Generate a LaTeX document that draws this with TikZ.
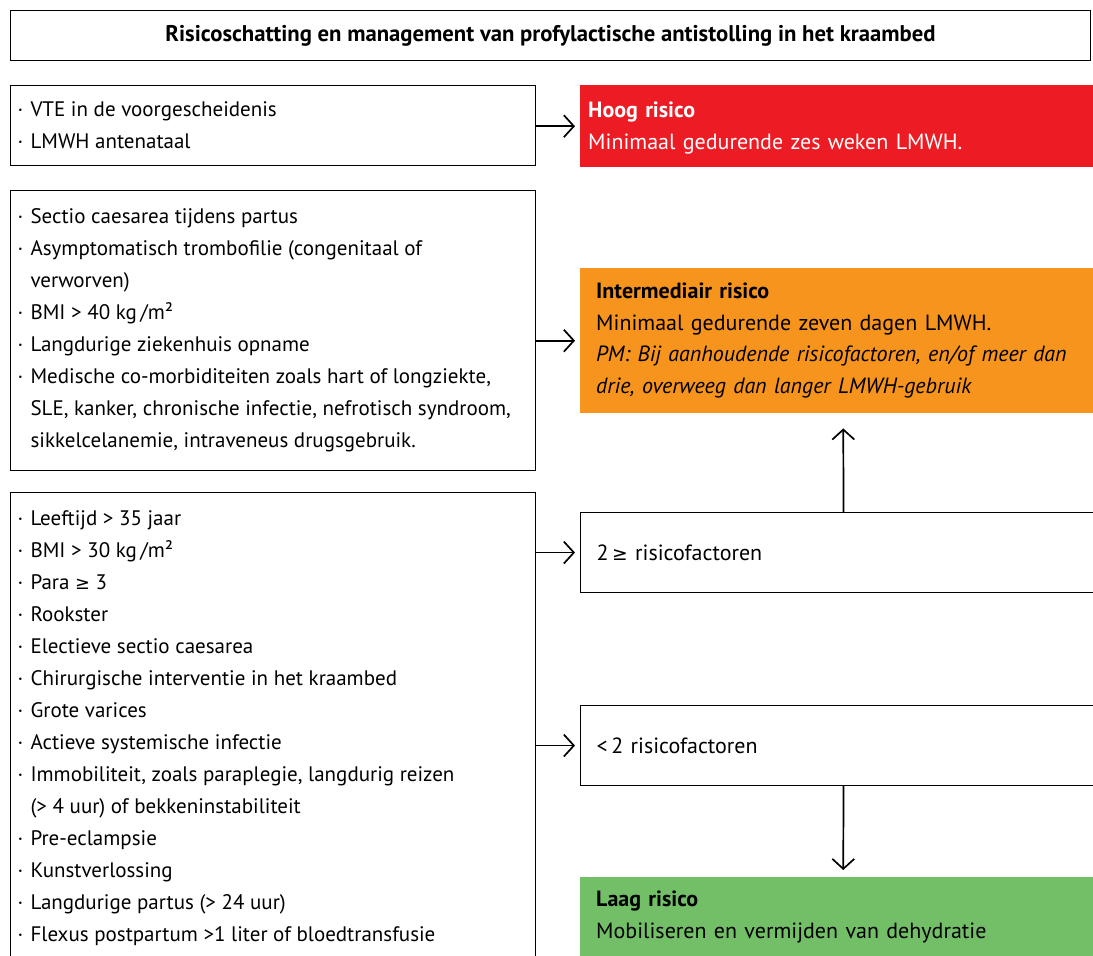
\documentclass[tikz,border=0pt]{standalone}
\usepackage{fontspec}
\setmainfont{PT Sans}
\newfontfamily\symf[Scale=0.85]{DejaVu Sans}
\usetikzlibrary{arrows.meta,positioning}
\definecolor{hoog}{HTML}{ED1C24}
\definecolor{inter}{HTML}{F7941D}
\definecolor{laag}{HTML}{72BF67}
\newcommand{\itm}{\par\noindent\hangindent=13pt\hangafter=1\makebox[13pt][l]{\textperiodcentered}}
\newcommand{\geqs}{{\symf ≥}}
\newenvironment{bullist}{\begin{minipage}{511pt}\raggedright}{\par\end{minipage}}

\begin{document}
\begin{tikzpicture}[x=1pt,y=-1pt]
\tikzstyle{every node}+=[inner sep=0pt]
\tikzstyle{lbox}=[draw=black, line width=1.1pt, anchor=north west, inner xsep=7pt, minimum width=525pt, font=\fontsize{21}{32}\selectfont]
\tikzstyle{rbox}=[anchor=north west, inner xsep=16pt, minimum width=526pt, text width=494pt, align=left, font=\fontsize{22}{31.5}\selectfont]
\tikzstyle{arr}=[black, line width=1.7pt, -{Straight Barb[length=10pt,width=22pt,line width=1.7pt]}]
\useasboundingbox (0,0) rectangle (1093,956);
\node [draw=black, line width=1.1pt, minimum width=1080pt, minimum height=50pt, anchor=north west, font=\fontsize{22.7}{26}\selectfont\bfseries] (title) at (10,10) {Risicoschatting en management van profylactische antistolling in het kraambed};
\node [lbox, minimum height=80pt] (vte) at (10,85) {\begin{bullist}\itm VTE in de voorgescheidenis\itm LMWH antenataal\end{bullist}};
\node [lbox, minimum height=280pt] (mid) at (10,190) {\begin{bullist}\itm Sectio caesarea tijdens partus\itm Asymptomatisch trombofilie (congenitaal of\newline verworven)\itm BMI > 40 kg\,/m²\itm Langdurige ziekenhuis opname\itm Medische co-morbiditeiten zoals hart of longziekte,\newline SLE, kanker, chronische infectie, nefrotisch syndroom,\newline sikkelcelanemie, intraveneus drugsgebruik.\end{bullist}};
\node [lbox, minimum height=472pt] (low) at (10,492) {\begin{bullist}\itm Leeftijd > 35 jaar\itm BMI > 30 kg\,/m²\itm Para \geqs\ 3\itm Rookster\itm Electieve sectio caesarea\itm Chirurgische interventie in het kraambed\itm Grote varices\itm Actieve systemische infectie\itm Immobiliteit, zoals paraplegie, langdurig reizen\newline (> 4 uur) of bekkeninstabiliteit\itm Pre-eclampsie\itm Kunstverlossing\itm Langdurige partus (> 24 uur)\itm Flexus postpartum >1 liter of bloedtransfusie\end{bullist}};
\node [rbox, fill=hoog, text=white, inner xsep=8pt, text width=510pt, minimum height=82pt] (hoogr) at (580,85) {\textbf{Hoog risico}\newline Minimaal gedurende zes weken LMWH.\par\vspace*{-4pt}};
\node [rbox, fill=inter, minimum height=145pt] (interr) at (580,268) {\textbf{Intermediair risico}\newline Minimaal gedurende zeven dagen LMWH.\newline \textit{PM: Bij aanhoudende risicofactoren, en/of meer dan\newline drie, overweeg dan langer LMWH-gebruik}\par\vspace*{-9pt}};
\node [rbox, draw=black, line width=1.1pt, minimum height=80pt] (two) at (580,512) {2\,\geqs\ risicofactoren};
\node [rbox, draw=black, line width=1.1pt, minimum height=80pt] (less) at (580,705) {<\,2 risicofactoren};
\node [rbox, fill=laag, minimum height=80pt] (laagr) at (580,877) {\textbf{Laag risico}\newline Mobiliseren en vermijden van dehydratie\par\vspace*{-8pt}};
\draw [arr, shorten >=5pt] (hoogr.west -| vte.east) -- (hoogr.west);
\draw [arr, shorten >=5pt] (interr.west -| mid.east) -- (interr.west);
\draw [arr, shorten >=5pt] (two.west -| low.east) -- (two.west);
\draw [arr, shorten >=5pt] (less.west -| low.east) -- (less.west);
\draw [arr, shorten >=15pt] (two.north) -- (interr.south);
\draw [arr, shorten >=7pt] (less.south) -- (laagr.north);
\end{tikzpicture}
\end{document}
